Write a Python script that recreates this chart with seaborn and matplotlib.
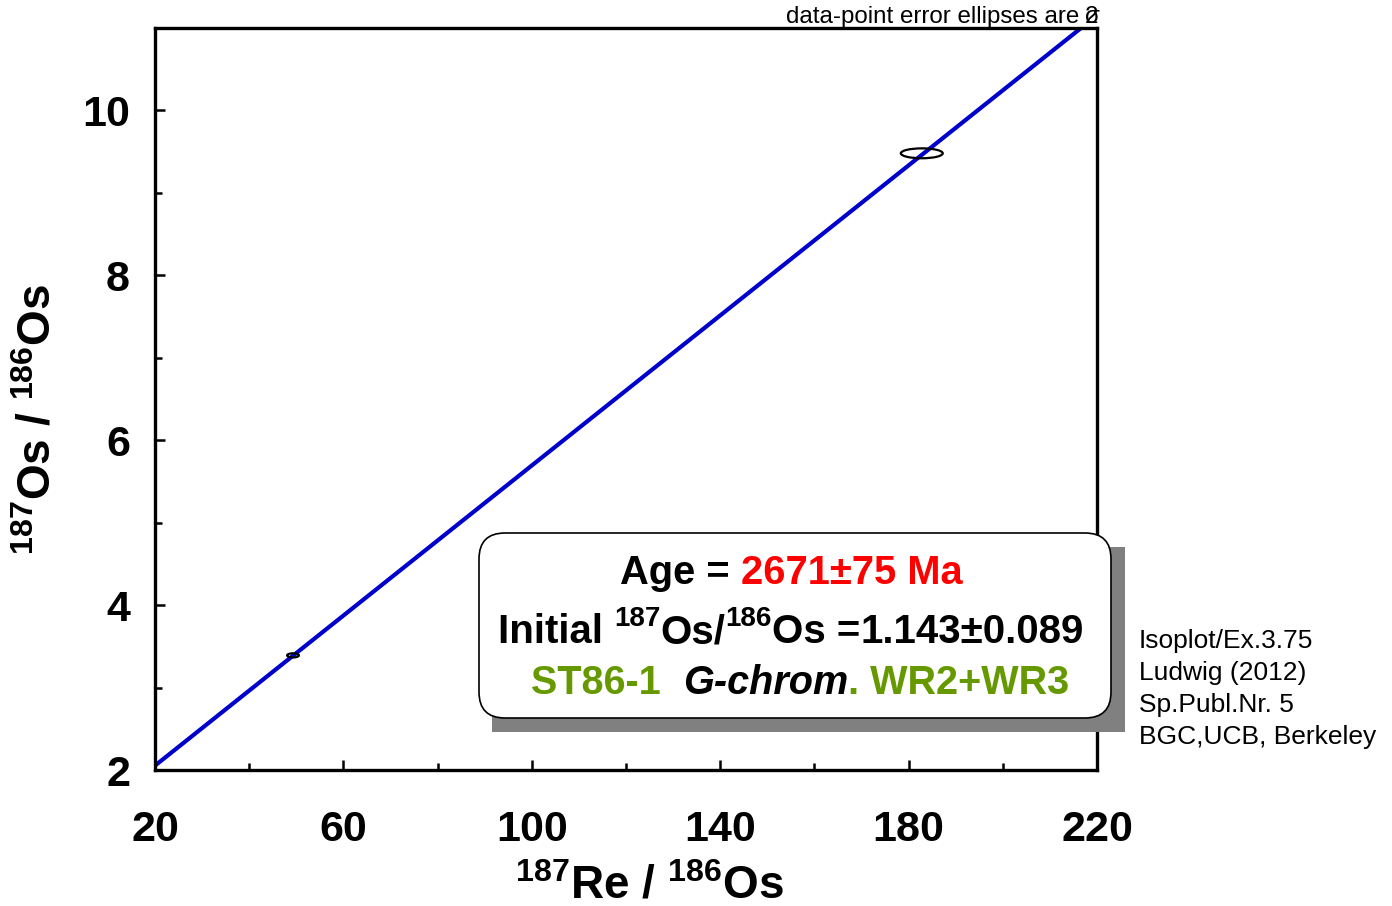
import numpy as np
import pandas as pd
import seaborn as sns
import matplotlib
matplotlib.use("Agg")
import matplotlib.pyplot as plt
from matplotlib.patches import Ellipse, FancyBboxPatch
from matplotlib.transforms import IdentityTransform

# Re-Os isochron data: ellipse centres and half-axes (2 sigma)
samples = ["ST86-1 WR2", "ST86-1 WR3"]
re187_os186 = [49.3, 182.8]
os187_os186 = [3.39, 9.48]
half_x = [1.25, 4.45]
half_y = [0.025, 0.060]

# Isochron result
age_ma = 2671
age_err = 75
initial_ratio = 1.143
initial_err = 0.089
lambda_re = 1.666e-11  # 187Re decay constant (1/yr)

x_ticks = [20, 60, 100, 140, 180, 220]
y_ticks = [2, 4, 6, 8, 10]
x_lim = (20, 220)
y_lim = (2, 11)

credit_lines = ["Isoplot/Ex.3.75", "Ludwig (2012)", "Sp.Publ.Nr. 5", "BGC,UCB, Berkeley"]

sns.set_theme(style="white")
plt.rcParams["font.family"] = ["Liberation Sans", "DejaVu Sans"]
plt.rcParams["mathtext.fontset"] = "custom"
plt.rcParams["mathtext.rm"] = "Liberation Sans:bold"
plt.rcParams["mathtext.bf"] = "Liberation Sans:bold"
plt.rcParams["mathtext.default"] = "rm"

W, H = 1392, 906
fig = plt.figure(figsize=(W / 100, H / 100), dpi=100)
ax = fig.add_axes([155 / W, 1 - 770 / H, (1097 - 155) / W, (770 - 28) / H])

# Isochron line from the fitted slope and intercept
slope = np.exp(lambda_re * age_ma * 1e6) - 1
x_end = (y_lim[1] - initial_ratio) / slope
line_df = pd.DataFrame({"x": [x_lim[0], x_end]})
line_df["y"] = initial_ratio + slope * line_df["x"]
sns.lineplot(data=line_df, x="x", y="y", ax=ax, color="#0000CC", lw=3.0, zorder=2)

# Error ellipses
for cx, cy, hx, hy in zip(re187_os186, os187_os186, half_x, half_y):
    ax.add_patch(Ellipse((cx, cy), 2 * hx, 2 * hy, fill=False, ec="black", lw=1.6, zorder=3))

ax.set_xlim(*x_lim)
ax.set_ylim(*y_lim)
ax.set_xticks(x_ticks)
ax.set_yticks(y_ticks)
ax.set_xticks(np.arange(40, 220, 40), minor=True)
ax.set_yticks(np.arange(3, 12, 2), minor=True)
ax.tick_params(axis="both", which="both", bottom=True, left=True, top=False, right=False)
ax.tick_params(axis="both", which="major", direction="in", length=7, width=1.8,
               labelsize=31, color="black", labelcolor="black")
ax.tick_params(axis="both", which="minor", direction="in", length=5, width=1.8, color="black")
ax.tick_params(axis="x", which="major", pad=29)
ax.tick_params(axis="y", which="major", pad=18)
for lab in ax.get_xticklabels() + ax.get_yticklabels():
    lab.set_fontweight("bold")
for sp in ax.spines.values():
    sp.set_linewidth(2.4)
    sp.set_color("black")

ax.set_xlabel(r"$^{187}$Re / $^{186}$Os", fontsize=33, fontweight="bold", color="black")
ax.set_ylabel(r"$^{187}$Os / $^{186}$Os", fontsize=33, fontweight="bold", color="black")
ax.xaxis.set_label_coords(0.525, -0.127)
ax.yaxis.set_label_coords(-0.100, 0.472)

pix = IdentityTransform()

# Result box with drop shadow
fig.patches.append(FancyBboxPatch((492, H - 732), 1125 - 492, 732 - 547,
                                  boxstyle="square,pad=0", fc="#808080", ec="none",
                                  transform=pix, figure=fig, zorder=5))
fig.patches.append(FancyBboxPatch((479, H - 718), 1111 - 479, 718 - 533,
                                  boxstyle="round,pad=0,rounding_size=26", fc="white",
                                  ec="black", lw=1.2, transform=pix, figure=fig, zorder=6))

renderer = fig.canvas.get_renderer()


def draw_runs(runs, xc, ybase):
    """Draw a centred line made of differently styled text runs."""
    texts = []
    for s, color, size, style, rise in runs:
        t = fig.text(0, 0, s, color=color, fontsize=size, fontweight="bold",
                     fontstyle=style, transform=pix, va="baseline", ha="left", zorder=7)
        texts.append((t, rise))
    widths = [t.get_window_extent(renderer).width for t, _ in texts]
    x = xc - sum(widths) / 2
    for (t, rise), w in zip(texts, widths):
        t.set_position((x, H - ybase + rise))
        x += w


red = "#FF0000"
green = "#669900"
draw_runs([("Age = ", "black", 28.7, "normal", 0),
           (f"{age_ma}±{age_err} Ma", red, 28.7, "normal", 0)], 791, 584)
draw_runs([("Initial ", "black", 29, "normal", 0),
           ("187", "black", 20, "normal", 17),
           ("Os/", "black", 29, "normal", 0),
           ("186", "black", 20, "normal", 17),
           ("Os =", "black", 29, "normal", 0),
           (f"{initial_ratio:.3f}±{initial_err:.3f}", "black", 29, "normal", 0)], 791, 643)
draw_runs([("ST86-1  ", green, 28.5, "normal", 0),
           ("G-chrom", "black", 28.5, "italic", 0),
           (". WR2+WR3", green, 28.5, "normal", 0)], 800, 694)

# Program credit
for i, line in enumerate(credit_lines):
    fig.text(1139, H - 648 - 32 * i, line, transform=pix, fontsize=19, color="black",
             va="baseline", ha="left")

# Ellipse note
fig.text(1086, H - 23, "data-point error ellipses are ", transform=pix, fontsize=17.4,
         color="black", va="baseline", ha="right")
fig.text(1092, H - 23, "2", transform=pix, fontsize=17.4, color="black", va="baseline", ha="center")
fig.text(1092, H - 23, "σ", transform=pix, fontsize=17.4, color="black", va="baseline", ha="center")

fig.savefig("out.png", dpi=100)
